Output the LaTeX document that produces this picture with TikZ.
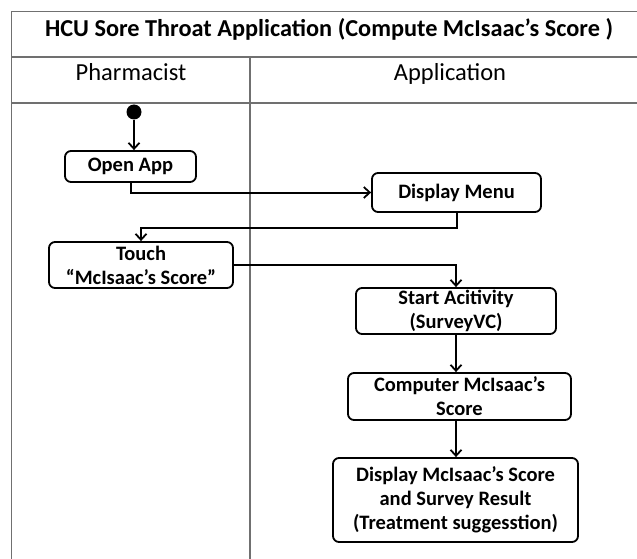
\documentclass[tikz,border=0pt]{standalone}
\usepackage{fontspec}
\setmainfont{Carlito}
\usetikzlibrary{arrows.meta}
\definecolor{frame}{HTML}{707070}
\tikzset{
  lane/.style={draw=frame, line width=1.8pt},
  head/.style={anchor=base, inner sep=0pt, font=\fontsize{24.5}{28}\selectfont},
  act/.style={draw=black, line width=1.8pt, rounded corners=6pt, align=center,
    font=\fontsize{20.5}{24}\selectfont\bfseries, inner sep=0pt},
  flow/.style={draw=black, line width=2pt, -{Straight Barb[length=6pt,width=11pt,line width=1.8pt]}},
  start/.style={circle, fill=black, minimum size=15pt, inner sep=0pt}
}
\begin{document}
\begin{tikzpicture}[x=1pt,y=-1pt]
\useasboundingbox (0,0) rectangle (637,559);
% swimlane frame
\draw[lane] (11.5,559) -- (11.5,11.5) -- (637,11.5);
\draw[lane] (11.5,57) -- (637,57);
\draw[lane] (11.5,103) -- (637,103);
\draw[lane] (250,57) -- (250,559);
\node[head, font=\fontsize{24.3}{28}\selectfont\bfseries] (title) at (329,36.7) {HCU Sore Throat Application (Compute McIsaac’s Score )};
\node[head] (h1) at (131,81) {Pharmacist};
\node[head] (h2) at (450,81) {Application};
% activities
\node[start] (init) at (134,112) {};
\node[act, minimum width=131pt, minimum height=31pt] (open) at (130.5,166.5) {Open App};
\node[act, minimum width=169pt, minimum height=39pt] (menu) at (456.5,192.5) {Display Menu};
\node[act, minimum width=184pt, minimum height=46pt] (touch) at (141,265) {Touch\\“McIsaac’s Score”};
\node[act, minimum width=200pt, minimum height=46pt] (act1) at (456,311) {Start Acitivity\\(SurveyVC)};
\node[act, minimum width=223pt, minimum height=47pt] (comp) at (459.5,396.5) {Computer McIsaac’s\\Score};
\node[act, minimum width=245pt, minimum height=84pt] (disp) at (455.5,500) {Display McIsaac’s Score\\and Survey Result\\(Treatment suggesstion)};
% flows
\draw[flow] (init) -- (init |- open.north);
\draw[flow] (open.south) |- (menu.west);
\draw[flow] (menu.south) -- ++(0,15) -| (touch.north);
\draw[flow] (touch.east) -| (act1.north);
\draw[flow] (act1.south) -- (act1.south |- comp.north);
\draw[flow] (act1.south |- comp.south) -- (act1.south |- disp.north);
\end{tikzpicture}
\end{document}
